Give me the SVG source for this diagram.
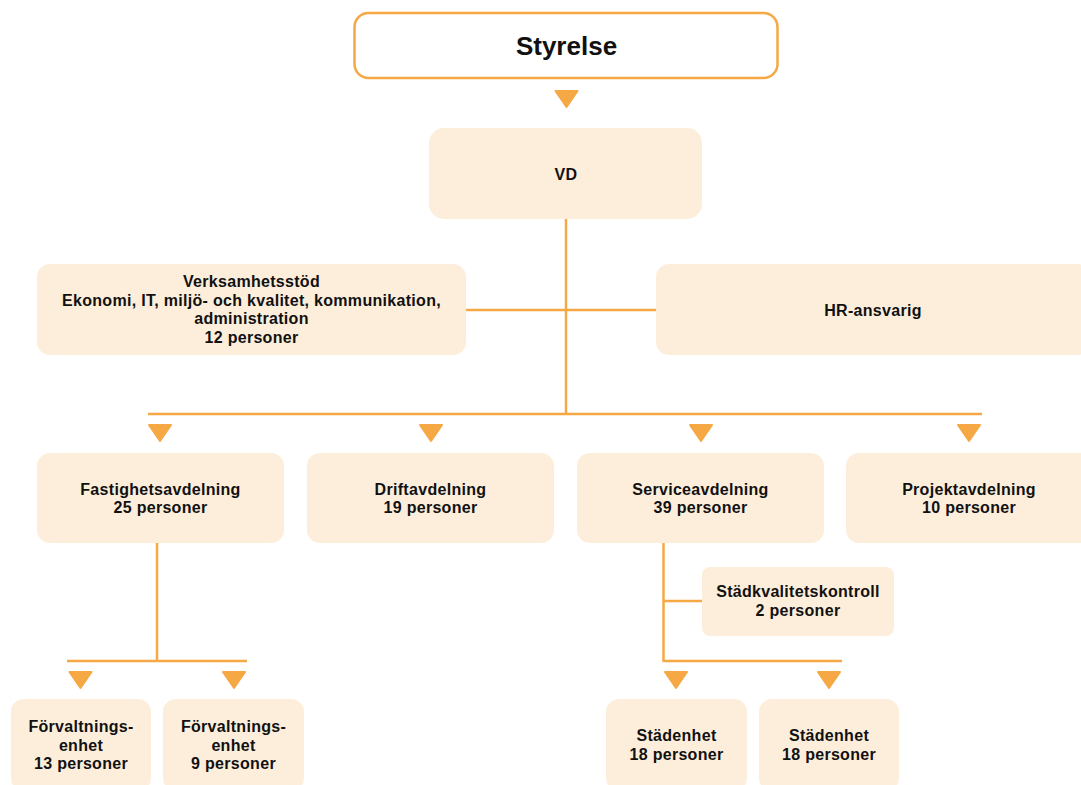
<svg xmlns="http://www.w3.org/2000/svg" width="1081" height="785" viewBox="0 0 1081 785">
<style>
.box{fill:#FDEEDC;}
.top{fill:#FFFFFF;stroke:#F5A843;stroke-width:2.5;}
.ln{stroke:#F5A843;stroke-width:2.5;fill:none;}
.tri{fill:#F5A843;stroke:#F5A843;stroke-width:2;stroke-linejoin:round;}
text{font-family:"Liberation Sans",Arial,sans-serif;font-weight:bold;font-size:16px;letter-spacing:0.3px;fill:#111111;text-anchor:middle;}
.big{font-size:26px;letter-spacing:0;}
</style>
<defs>
<path id="arr" class="tri" d="M-11,-8 L11,-8 L0,8 Z"/>
</defs>
<rect width="1081" height="785" fill="#FFFFFF"/>
<g id="connectors">
<line class="ln" x1="566" y1="219" x2="566" y2="415"/>
<line class="ln" x1="466" y1="310" x2="656" y2="310"/>
<line class="ln" x1="148" y1="414" x2="982" y2="414"/>
<line class="ln" x1="157" y1="543" x2="157" y2="661"/>
<line class="ln" x1="67" y1="661" x2="247" y2="661"/>
<line class="ln" x1="663.5" y1="543" x2="663.5" y2="661"/>
<line class="ln" x1="663" y1="601" x2="702" y2="601"/>
<line class="ln" x1="662.5" y1="661" x2="842" y2="661"/>
<use href="#arr" x="566.5" y="99"/>
<use href="#arr" x="160" y="433"/>
<use href="#arr" x="431" y="433"/>
<use href="#arr" x="701" y="433"/>
<use href="#arr" x="969" y="433"/>
<use href="#arr" x="80.5" y="680"/>
<use href="#arr" x="234" y="680"/>
<use href="#arr" x="676" y="680"/>
<use href="#arr" x="829" y="680"/>
</g>
<g id="styrelse">
<rect class="top" x="354.5" y="13" width="423" height="65" rx="14"/>
<text class="big" x="566.5" y="55">Styrelse</text>
</g>
<g id="vd">
<rect class="box" x="429" y="128" width="273" height="91" rx="15"/>
<text x="566" y="180">VD</text>
</g>
<g id="verksamhetsstod">
<rect class="box" x="37" y="264" width="429" height="91" rx="13"/>
<text x="251.5" y="287">Verksamhetsstöd</text>
<text x="251.5" y="305.5">Ekonomi, IT, miljö- och kvalitet, kommunikation,</text>
<text x="251.5" y="324">administration</text>
<text x="251.5" y="342.5">12 personer</text>
</g>
<g id="hr">
<rect class="box" x="656" y="264" width="434" height="91" rx="13"/>
<text x="873" y="316">HR-ansvarig</text>
</g>
<g id="fastighet">
<rect class="box" x="37" y="453" width="247" height="90" rx="13"/>
<text x="160.5" y="495">Fastighetsavdelning</text>
<text x="160.5" y="513">25 personer</text>
</g>
<g id="drift">
<rect class="box" x="307" y="453" width="247" height="90" rx="13"/>
<text x="430.5" y="495">Driftavdelning</text>
<text x="430.5" y="513">19 personer</text>
</g>
<g id="service">
<rect class="box" x="577" y="453" width="247" height="90" rx="13"/>
<text x="700.5" y="495">Serviceavdelning</text>
<text x="700.5" y="513">39 personer</text>
</g>
<g id="projekt">
<rect class="box" x="846" y="453" width="247" height="90" rx="13"/>
<text x="969" y="495">Projektavdelning</text>
<text x="969" y="513">10 personer</text>
</g>
<g id="stadkvalitet">
<rect class="box" x="702" y="567" width="192" height="69" rx="8"/>
<text x="798" y="597">Städkvalitetskontroll</text>
<text x="798" y="616">2 personer</text>
</g>
<g id="forvaltning1">
<rect class="box" x="11" y="699" width="140" height="92" rx="13"/>
<text x="81" y="732">Förvaltnings-</text>
<text x="81" y="751">enhet</text>
<text x="81" y="769">13 personer</text>
</g>
<g id="forvaltning2">
<rect class="box" x="163" y="699" width="141" height="92" rx="13"/>
<text x="233.5" y="732">Förvaltnings-</text>
<text x="233.5" y="751">enhet</text>
<text x="233.5" y="769">9 personer</text>
</g>
<g id="stadenhet1">
<rect class="box" x="606" y="699" width="141" height="92" rx="13"/>
<text x="676.5" y="741">Städenhet</text>
<text x="676.5" y="760">18 personer</text>
</g>
<g id="stadenhet2">
<rect class="box" x="759" y="699" width="140" height="92" rx="13"/>
<text x="829" y="741">Städenhet</text>
<text x="829" y="760">18 personer</text>
</g>
</svg>
